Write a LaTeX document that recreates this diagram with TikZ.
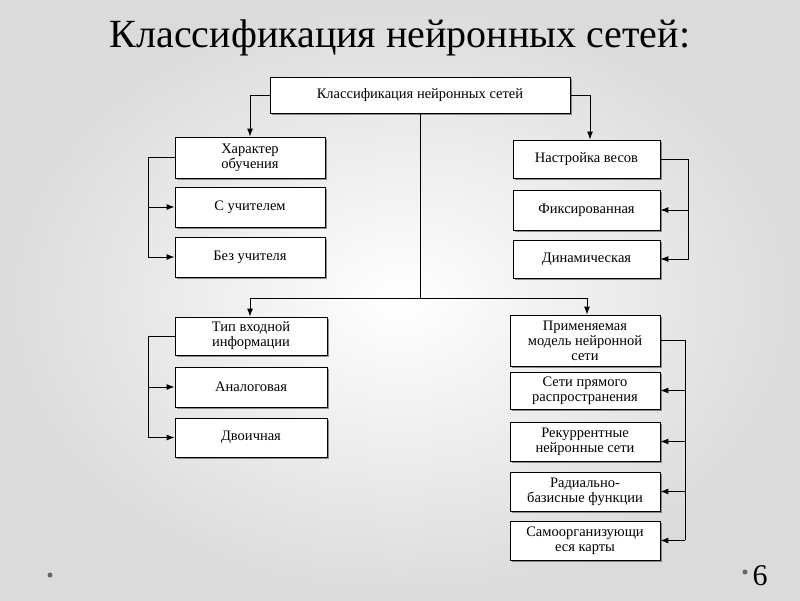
\documentclass[tikz,border=0pt]{standalone}
\usepackage{fontspec}
\setmainfont{Liberation Serif}
\usetikzlibrary{arrows.meta,shadows}

\tikzset{
  box/.style={draw, fill=white, line width=0.8pt, align=center, font=\fontsize{14.5}{15}\selectfont,
    inner sep=0pt, drop shadow={shadow xshift=1.5pt, shadow yshift=-1.5pt, opacity=0.6, fill=black!70}},
  link/.style={line width=1pt, -{Latex[length=8pt,width=6pt]}},
  line/.style={line width=1pt}
}

\newcommand{\boxat}[6]{% name, x1, y1, x2, y2, text
  \node[box, minimum width=#4pt-#2pt, minimum height=#5pt-#3pt] (#1) at ({(#2+#4)/2},{(#3+#5)/2}) {#6};}

\begin{document}
\begin{tikzpicture}[x=1pt, y=-1pt]
            \shade[inner color=white, outer color=black!14] (0,0) rectangle (800,600);
            \useasboundingbox (0,0) rectangle (800,600);

            \node[font=\fontsize{40}{44}\selectfont] (title) at (400,38) {Классификация нейронных сетей:};

            % root
            \boxat{root}{270}{77}{570}{113}{Классификация нейронных сетей}

            % left top group
            \boxat{lt1}{175}{137}{325}{178}{Характер\\обучения}
            \boxat{lt2}{175}{187}{325}{227}{С учителем}
            \boxat{lt3}{175}{237}{325}{277}{Без учителя}

            % right top group
            \boxat{rt1}{513}{140}{660}{178}{Настройка весов}
            \boxat{rt2}{513}{190}{660}{230}{Фиксированная}
            \boxat{rt3}{513}{240}{660}{278}{Динамическая}

            % left bottom group
            \boxat{lb1}{175}{317}{327}{355}{Тип входной\\информации}
            \boxat{lb2}{175}{367}{327}{407}{Аналоговая}
            \boxat{lb3}{175}{418}{327}{457}{Двоичная}

            % right bottom group
            \boxat{rb1}{510}{315}{660}{366}{Применяемая\\модель нейронной\\сети}
            \boxat{rb2}{510}{372}{660}{409}{Сети прямого\\распространения}
            \boxat{rb3}{510}{422}{660}{461}{Рекуррентные\\нейронные сети}
            \boxat{rb4}{510}{472}{660}{511}{Радиально-\\базисные функции}
            \boxat{rb5}{510}{521}{660}{560}{Самоорганизующи\\еся карты}

            \coordinate (hub) at (420,298);

            % connectors from root
            \draw[link] (root.west) -| (lt1.north -| 250,0);
            \draw[link] (root.east) -| (rt1.north -| 590,0);
            \draw[line] (root.south -| hub) -- (hub);
            \draw[link] (hub) -| (lb1.north -| 250,0);
            \draw[link] (hub) -| (rb1.north -| 587,0);

            % branches
            \draw[link] (lt1.west) -| (148,207) -- (lt2.west);
            \draw[link] (148,207) |- (lt3.west);
            \draw[link] (rt1.east) -| (688,210) -- (rt2.east);
            \draw[link] (688,210) |- (rt3.east);
            \draw[link] (lb1.west) -| (148,387) -- (lb2.west);
            \draw[link] (148,387) |- (lb3.west);
            \draw[line] (rb1.east) -| (685,540);
            \foreach \n in {rb2,rb3,rb4,rb5}
              \draw[link] (\n.east -| 685,0) -- (\n.east);

            \node[font=\fontsize{30}{32}\selectfont] (page) at (760,576) {6};
            \fill[black!60] (50,575) circle (2.5pt) (745,572) circle (2.5pt);
        \end{tikzpicture}
\end{document}
